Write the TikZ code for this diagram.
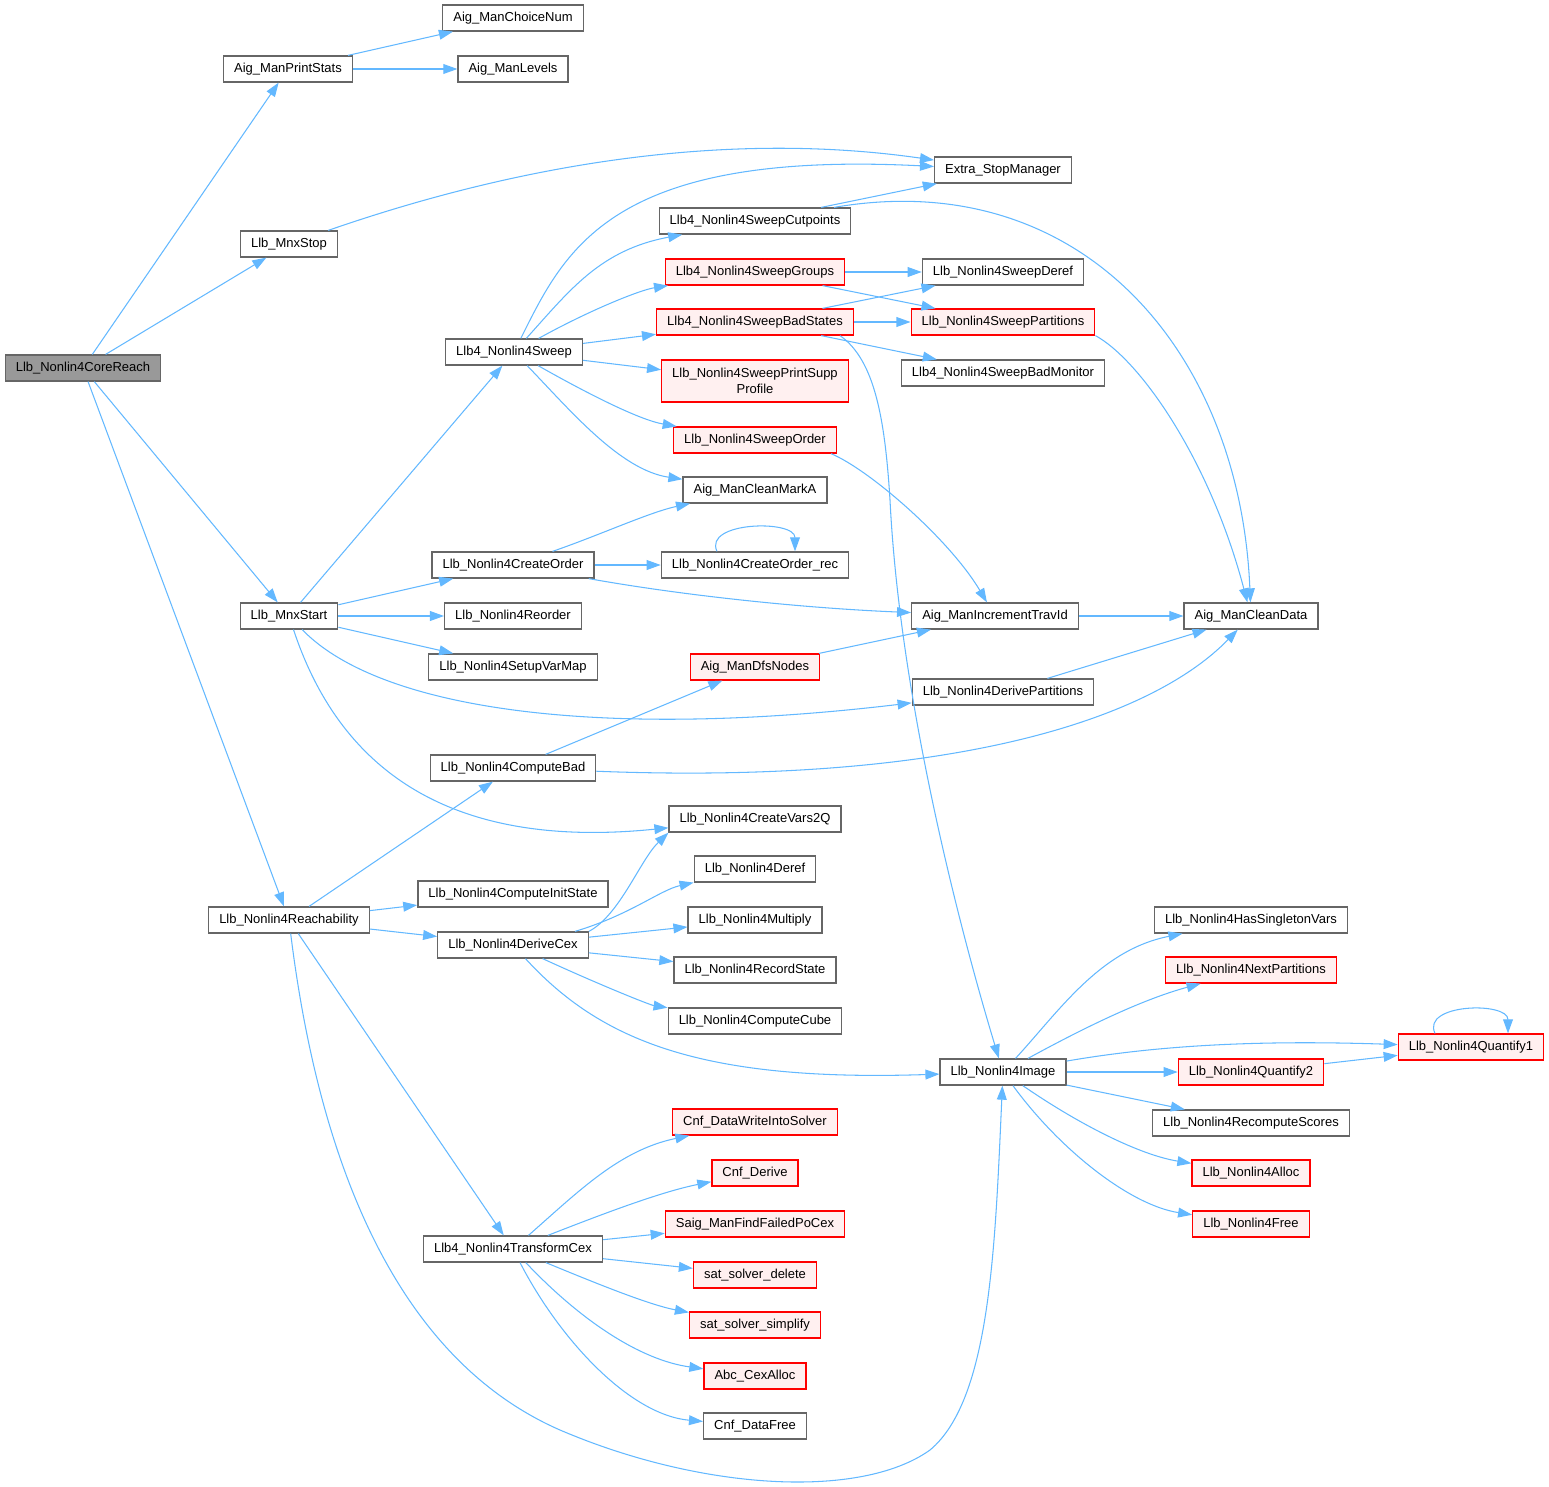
\documentclass[tikz,border=0pt]{standalone}
\usepackage{fontspec}
\setmainfont{Liberation Sans}
\usepackage{tikz}
\usetikzlibrary{arrows.meta,calc}

\definecolor{edgeblue}{HTML}{63B8FF}
\definecolor{boxgray}{HTML}{666666}
\definecolor{rootfill}{HTML}{999999}
\definecolor{redfill}{HTML}{FFF0F0}

\begin{document}
\begin{tikzpicture}[x=0.02cm,y=-0.02cm,
	fnbox/.style={draw=boxgray, fill=white, line width=0.7pt, inner xsep=6pt, inner ysep=0pt,
		minimum height=0.52cm, font=\fontsize{7.4}{9.4}\selectfont},
	fnred/.style={fnbox, draw=red, fill=redfill},
	fnroot/.style={fnbox, fill=rootfill},
	callarrow/.style={draw=edgeblue, line width=0.6pt, -{Triangle[length=8pt,width=5.6pt]}}]

	\useasboundingbox (0,0) rectangle (1549,1487);

	% functions
	\node[fnroot] (corereach) at (83,368) {Llb\_Nonlin4CoreReach};
	\node[fnbox] (printstats) at (288,69) {Aig\_ManPrintStats};
	\node[fnbox] (choicenum) at (513,18) {Aig\_ManChoiceNum};
	\node[fnbox] (levels) at (513,69) {Aig\_ManLevels};
	\node[fnbox] (mnxstop) at (289,244) {Llb\_MnxStop};
	\node[fnbox] (stopmgr) at (1003,170) {Extra\_StopManager};
	\node[fnbox] (cutpoints) at (755,221) {Llb4\_Nonlin4SweepCutpoints};
	\node[fnred] (groups) at (755,272) {Llb4\_Nonlin4SweepGroups};
	\node[fnbox] (sweepderef) at (1003,272) {Llb\_Nonlin4SweepDeref};
	\node[fnred] (badstates) at (755,322) {Llb4\_Nonlin4SweepBadStates};
	\node[fnred] (sweepparts) at (1003,322) {Llb\_Nonlin4SweepPartitions};
	\node[fnbox] (badmonitor) at (1003,373) {Llb4\_Nonlin4SweepBadMonitor};
	\node[fnbox] (sweep) at (514,352) {Llb4\_Nonlin4Sweep};
	\node[fnred, align=center, minimum height=0.84cm] (printsupp) at (755,381) {Llb\_Nonlin4SweepPrintSupp\\Profile};
	\node[fnred] (sweeporder) at (755,440) {Llb\_Nonlin4SweepOrder};
	\node[fnbox] (cleanmarka) at (755,490) {Aig\_ManCleanMarkA};
	\node[fnbox] (createorder) at (513,565) {Llb\_Nonlin4CreateOrder};
	\node[fnbox] (createrec) at (755,565) {Llb\_Nonlin4CreateOrder\_rec};
	\node[fnbox] (mnxstart) at (289,616) {Llb\_MnxStart};
	\node[fnbox] (reorder) at (513,616) {Llb\_Nonlin4Reorder};
	\node[fnbox] (travid) at (995,616) {Aig\_ManIncrementTravId};
	\node[fnbox] (cleandata) at (1251,616) {Aig\_ManCleanData};
	\node[fnbox] (setupvarmap) at (513,667) {Llb\_Nonlin4SetupVarMap};
	\node[fnred] (dfsnodes) at (755,667) {Aig\_ManDfsNodes};
	\node[fnbox] (deriveparts) at (1003,692) {Llb\_Nonlin4DerivePartitions};
	\node[fnbox] (computebad) at (513,768) {Llb\_Nonlin4ComputeBad};
	\node[fnbox] (createvars) at (755,819) {Llb\_Nonlin4CreateVars2Q};
	\node[fnbox] (deref) at (755,869) {Llb\_Nonlin4Deref};
	\node[fnbox] (reach) at (289,920) {Llb\_Nonlin4Reachability};
	\node[fnbox] (initstate) at (513,894) {Llb\_Nonlin4ComputeInitState};
	\node[fnbox] (singleton) at (1251,920) {Llb\_Nonlin4HasSingletonVars};
	\node[fnbox] (multiply) at (755,920) {Llb\_Nonlin4Multiply};
	\node[fnbox] (derivecex) at (513,945) {Llb\_Nonlin4DeriveCex};
	\node[fnred] (nextparts) at (1251,970) {Llb\_Nonlin4NextPartitions};
	\node[fnbox] (recordstate) at (755,970) {Llb\_Nonlin4RecordState};
	\node[fnbox] (computecube) at (755,1021) {Llb\_Nonlin4ComputeCube};
	\node[fnred] (quantify1) at (1471,1047) {Llb\_Nonlin4Quantify1};
	\node[fnbox] (image) at (1003,1072) {Llb\_Nonlin4Image};
	\node[fnred] (quantify2) at (1251,1072) {Llb\_Nonlin4Quantify2};
	\node[fnbox] (recompute) at (1251,1123) {Llb\_Nonlin4RecomputeScores};
	\node[fnred] (writesolver) at (755,1122) {Cnf\_DataWriteIntoSolver};
	\node[fnred] (cnfderive) at (755,1173) {Cnf\_Derive};
	\node[fnred] (nlalloc) at (1251,1173) {Llb\_Nonlin4Alloc};
	\node[fnred] (findfailed) at (755,1224) {Saig\_ManFindFailedPoCex};
	\node[fnred] (nlfree) at (1251,1224) {Llb\_Nonlin4Free};
	\node[fnbox] (transformcex) at (513,1249) {Llb4\_Nonlin4TransformCex};
	\node[fnred] (satdelete) at (755,1275) {sat\_solver\_delete};
	\node[fnred] (satsimplify) at (755,1325) {sat\_solver\_simplify};
	\node[fnred] (cexalloc) at (755,1376) {Abc\_CexAlloc};
	\node[fnbox] (datafree) at (755,1426) {Cnf\_DataFree};

	% calls
	\draw[callarrow] (corereach) -- (printstats);
	\draw[callarrow] (corereach) -- (mnxstop);
	\draw[callarrow] (corereach) -- (mnxstart);
	\draw[callarrow] (corereach) -- (reach);

	\draw[callarrow] (printstats) -- (choicenum);
	\draw[callarrow] (printstats) -- (levels);
	\draw[callarrow] (mnxstop) .. controls (560,150) and (760,135) .. (stopmgr);

	\draw[callarrow] (mnxstart) -- (sweep);
	\draw[callarrow] (mnxstart) -- (createorder);
	\draw[callarrow] (mnxstart) -- (reorder);
	\draw[callarrow] (mnxstart) -- (setupvarmap);
	\draw[callarrow] (mnxstart) .. controls (380,710) and (600,740) .. (deriveparts);
	\draw[callarrow] (mnxstart) .. controls (340,770) and (450,850) .. (createvars);

	\draw[callarrow] (sweep) .. controls (565,250) and (610,150) .. (stopmgr);
	\draw[callarrow] (sweep) .. controls (570,290) and (600,250) .. (cutpoints);
	\draw[callarrow] (sweep) .. controls (590,310) and (640,290) .. (groups);
	\draw[callarrow] (sweep) -- (badstates);
	\draw[callarrow] (sweep) -- (printsupp);
	\draw[callarrow] (sweep) .. controls (590,395) and (640,420) .. (sweeporder);
	\draw[callarrow] (sweep) .. controls (570,410) and (620,470) .. (cleanmarka);

	\draw[callarrow] (cutpoints) -- (stopmgr);
	\draw[callarrow] (cutpoints) .. controls (1080,165) and (1240,350) .. (cleandata);
	\draw[callarrow] (groups) -- (sweepderef);
	\draw[callarrow] (groups) -- (sweepparts);
	\draw[callarrow] (badstates) -- (sweepderef);
	\draw[callarrow] (badstates) -- (sweepparts);
	\draw[callarrow] (badstates) -- (badmonitor);
	\draw[callarrow] ($(badstates.south)+(85,0)$) .. controls (875,360) and (885,420) .. (890,500)
		.. controls (900,700) and (960,930) .. (image);
	\draw[callarrow] (sweepparts.south east) .. controls (1140,360) and (1210,460) .. (cleandata);
	\draw[callarrow] ($(sweeporder.south east)+(-6,0)$) .. controls (870,470) and (950,540) .. (travid);

	\draw[callarrow] (createorder) .. controls (600,535) and (650,512) .. (cleanmarka);
	\draw[callarrow] (createorder) -- (createrec);
	\draw[callarrow] (createorder) .. controls (680,595) and (800,608) .. (travid);
	\draw[callarrow] ($(createrec.north)+(-38,0)$) .. controls ($(createrec.north)+(-52,-30)$)
		and ($(createrec.north)+(40,-32)$) .. ($(createrec.north)+(40,0)$);
	\draw[callarrow] (travid) -- (cleandata);
	\draw[callarrow] (dfsnodes) -- (travid);
	\draw[callarrow] (deriveparts) -- (cleandata);
	\draw[callarrow] (computebad) -- (dfsnodes);
	\draw[callarrow] (computebad) .. controls (950,785) and (1150,720) .. (cleandata);

	\draw[callarrow] (reach) -- (computebad);
	\draw[callarrow] (reach) -- (initstate);
	\draw[callarrow] (reach) -- (derivecex);
	\draw[callarrow] (reach) -- (transformcex);
	\draw[callarrow] (reach) .. controls (320,1170) and (400,1360) .. (560,1430)
		.. controls (700,1490) and (860,1500) .. (930,1450)
		.. controls (990,1400) and (995,1250) .. (image);

	\draw[callarrow] (derivecex.north east) .. controls (620,915) and (640,860) .. (createvars.south west);
	\draw[callarrow] ($(derivecex.north)+(62,0)$) .. controls (630,915) and (660,890) .. (deref);
	\draw[callarrow] (derivecex) -- (multiply);
	\draw[callarrow] (derivecex) -- (recordstate);
	\draw[callarrow] (derivecex) .. controls (600,985) and (650,1005) .. (computecube);
	\draw[callarrow] (derivecex) .. controls (600,1040) and (700,1082) .. (image);

	\draw[callarrow] (image) .. controls (1060,1010) and (1100,950) .. (singleton);
	\draw[callarrow] (image) .. controls (1080,1030) and (1140,1000) .. (nextparts);
	\draw[callarrow] (image) .. controls (1160,1045) and (1260,1040) .. (quantify1);
	\draw[callarrow] (image) -- (quantify2);
	\draw[callarrow] (image) -- (recompute);
	\draw[callarrow] (image) .. controls (1080,1125) and (1140,1155) .. (nlalloc);
	\draw[callarrow] (image) .. controls (1060,1150) and (1130,1205) .. (nlfree);
	\draw[callarrow] (quantify2) -- (quantify1);
	\draw[callarrow] ($(quantify1.north)+(-36,0)$) .. controls ($(quantify1.north)+(-50,-30)$)
		and ($(quantify1.north)+(37,-32)$) .. ($(quantify1.north)+(37,0)$);

	\draw[callarrow] (transformcex) .. controls (580,1190) and (620,1150) .. (writesolver);
	\draw[callarrow] (transformcex) .. controls (600,1215) and (660,1192) .. (cnfderive);
	\draw[callarrow] (transformcex) -- (findfailed);
	\draw[callarrow] (transformcex) -- (satdelete);
	\draw[callarrow] (transformcex) .. controls (600,1285) and (650,1305) .. (satsimplify);
	\draw[callarrow] (transformcex) .. controls (580,1320) and (640,1360) .. (cexalloc);
	\draw[callarrow] (transformcex) .. controls (560,1340) and (630,1415) .. (datafree);

\end{tikzpicture}
\end{document}
